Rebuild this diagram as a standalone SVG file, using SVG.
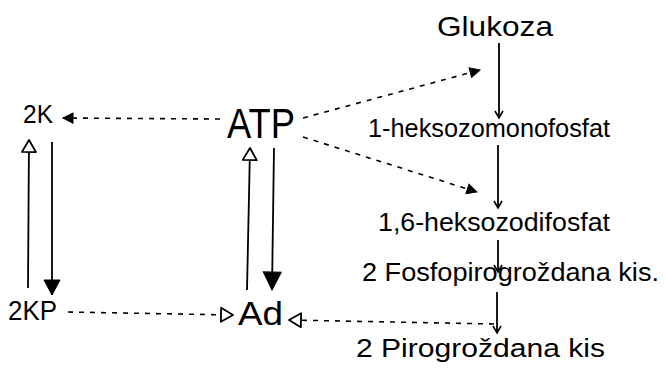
<svg xmlns="http://www.w3.org/2000/svg" width="665" height="374" viewBox="0 0 665 374">
  <style>
    text { font-family: "Liberation Sans", "DejaVu Sans", sans-serif; fill: #000; }
    .lbl { font-size: 25px; }
    .solid { fill: none; stroke: #000; stroke-width: 1.8; }
    .dash { fill: none; stroke: #000; stroke-width: 1.6; stroke-dasharray: 5 6; }
  </style>
  <defs>
    <marker id="stick" markerUnits="userSpaceOnUse" orient="auto" refX="0" refY="0" overflow="visible">
      <path d="M-7,-4 L0,0 L-7,4" fill="none" stroke="#000" stroke-width="1.6"/>
    </marker>
    <marker id="hollow" markerUnits="userSpaceOnUse" orient="auto" refX="0" refY="0" overflow="visible">
      <path d="M0,0 L-12,-7 L-12,7 Z" fill="#fff" stroke="#000" stroke-width="1.8" stroke-linejoin="round"/>
    </marker>
    <marker id="solidBig" markerUnits="userSpaceOnUse" orient="auto" refX="0" refY="0" overflow="visible">
      <path d="M0,0 L-18,-9 L-18,9 Z" fill="#000" stroke="#000" stroke-width="1"/>
    </marker>
    <marker id="solidMid" markerUnits="userSpaceOnUse" orient="auto" refX="0" refY="0" overflow="visible">
      <path d="M0,0 L-15,-8 L-15,8 Z" fill="#000" stroke="#000" stroke-width="1"/>
    </marker>
    <marker id="solidSmall" markerUnits="userSpaceOnUse" orient="auto" refX="0" refY="0" overflow="visible">
      <path d="M0,0 L-10,-5 L-10,5 Z" fill="#000" stroke="#000" stroke-width="1"/>
    </marker>
  </defs>

  <rect width="665" height="374" fill="#fff"/>

  <!-- connectors -->
  <g id="connectors">
    <!-- ATP gives phosphate to creatine and to the glycolysis steps -->
    <path class="dash" d="M220,119 L63,118" marker-end="url(#solidSmall)"/>
    <path class="dash" d="M303,118 L480,70" marker-end="url(#solidSmall)"/>
    <path class="dash" d="M303,137 L477,192" marker-end="url(#solidSmall)"/>
    <!-- phosphate returned to ADP -->
    <path class="dash" d="M68,312 L233,315" marker-end="url(#hollow)"/>
    <path class="dash" d="M494,324 L289,320" marker-end="url(#hollow)"/>
    <!-- creatine / creatine phosphate cycle -->
    <path class="solid" d="M28,288 L29,140" marker-end="url(#hollow)"/>
    <path class="solid" d="M52,142 L52,295" marker-end="url(#solidMid)"/>
    <!-- ATP / ADP cycle -->
    <path class="solid" d="M247,290 L250,148" marker-end="url(#hollow)"/>
    <path class="solid" d="M274,148 L272,290" marker-end="url(#solidBig)"/>
    <!-- glycolysis chain -->
    <path class="solid" d="M499,43 L499,118" marker-end="url(#stick)"/>
    <path class="solid" d="M498,145 L498,208" marker-end="url(#stick)"/>
    <path class="solid" d="M498,240 L498,272" marker-end="url(#stick)"/>
    <path class="solid" d="M497,292 L497,333" marker-end="url(#stick)"/>
  </g>

  <g id="node-2K"><text x="23" y="123" font-size="25" textLength="30" lengthAdjust="spacingAndGlyphs">2K</text></g>
  <g id="node-2KP"><text x="8" y="320" font-size="27" textLength="49" lengthAdjust="spacingAndGlyphs">2KP</text></g>
  <g id="node-ATP"><text x="227" y="138" font-size="42" textLength="68" lengthAdjust="spacingAndGlyphs">ATP</text></g>
  <g id="node-Ad"><text x="238" y="325" font-size="34" textLength="45" lengthAdjust="spacingAndGlyphs">Ad</text></g>
  <g id="node-glukoza"><text x="437" y="36" font-size="28" textLength="116" lengthAdjust="spacingAndGlyphs">Glukoza</text></g>
  <g id="node-monofosfat"><text class="lbl" x="368" y="137" textLength="242" lengthAdjust="spacingAndGlyphs">1-heksozomonofosfat</text></g>
  <g id="node-difosfat"><text class="lbl" x="378" y="231" textLength="232" lengthAdjust="spacingAndGlyphs">1,6-heksozodifosfat</text></g>
  <g id="node-fosfopiro"><text class="lbl" x="362" y="281" textLength="297" lengthAdjust="spacingAndGlyphs">2 Fosfopirogroždana kis.</text></g>
  <g id="node-piro"><text class="lbl" x="356" y="357" textLength="249" lengthAdjust="spacingAndGlyphs">2 Pirogroždana kis</text></g>
</svg>
